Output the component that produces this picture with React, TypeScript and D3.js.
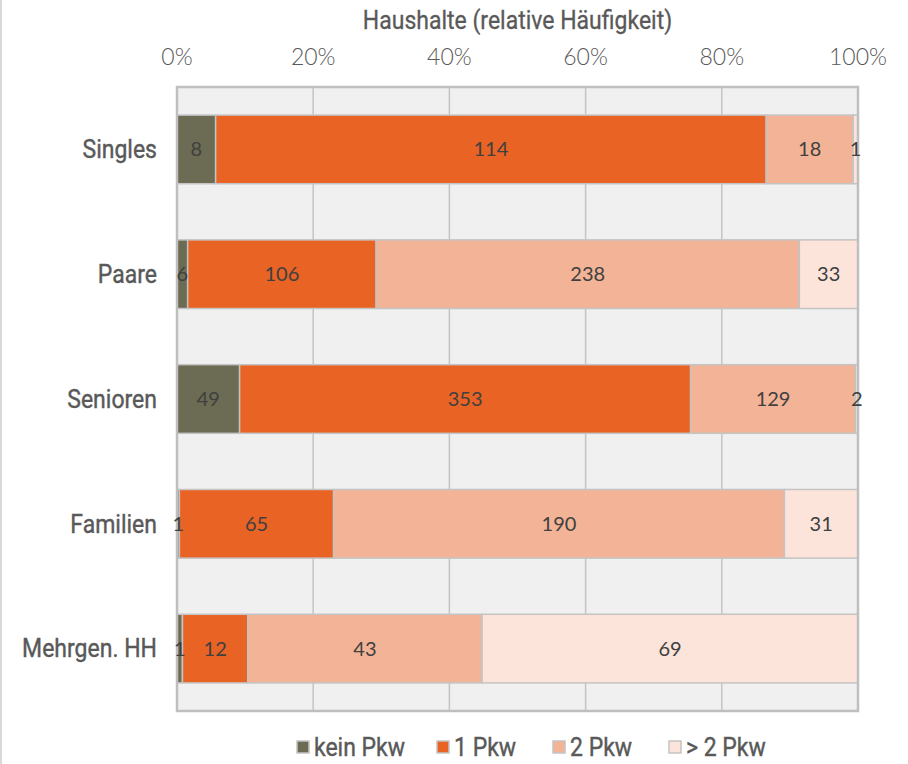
import React, { useRef, useEffect } from 'react';
import * as d3 from 'd3';

const categories = ['Singles', 'Paare', 'Senioren', 'Familien', 'Mehrgen. HH'];
const seriesNames = ['kein Pkw', '1 Pkw', '2 Pkw', '> 2 Pkw'];
const keinPkw = [8, 6, 49, 1, 1];
const einPkw = [114, 106, 353, 65, 12];
const zweiPkw = [18, 238, 129, 190, 43];
const mehrPkw = [1, 33, 2, 31, 69];
const tickValues = [0, 0.2, 0.4, 0.6, 0.8, 1];
const colors = ['#6c6b53', '#e96325', '#f3b396', '#fce4da'];

const labelFont = 'Roboto, sans-serif';
const squeeze = 0.92; // condensed look for the labels

const Chart: React.FC = () => {
  const svgRef = useRef<SVGSVGElement | null>(null);

  useEffect(() => {
    if (!svgRef.current) return;
    const svg = d3.select(svgRef.current);
    svg.selectAll('*').remove();

    const left = 177, right = 858, top = 87, bottom = 711;
    const series = [keinPkw, einPkw, zweiPkw, mehrPkw];
    const rows = categories.map((c, i) => {
      const vals = series.map(s => s[i]);
      return { cat: c, vals, total: d3.sum(vals) };
    });

    const x = d3.scaleLinear().domain([0, 1]).range([left, right]);
    const y = d3.scaleBand()
      .domain(categories)
      .range([top, bottom])
      .paddingInner(0.45)
      .paddingOuter(0.225);

    // left edge line
    svg.append('line')
      .attr('x1', 1).attr('x2', 1).attr('y1', 0).attr('y2', 764)
      .attr('stroke', '#d9d9d9').attr('stroke-width', 2);

    // plot background
    svg.append('rect')
      .attr('x', left).attr('y', top)
      .attr('width', right - left).attr('height', bottom - top)
      .attr('fill', '#f0f0f0');

    // gridlines
    svg.append('g')
      .selectAll('line')
      .data(tickValues)
      .join('line')
      .attr('x1', d => x(d)).attr('x2', d => x(d))
      .attr('y1', top).attr('y2', bottom)
      .attr('stroke', '#c4c4c4').attr('stroke-width', 1.5);

    // bars
    const segs: { x: number; y: number; v: number }[] = [];
    rows.forEach(r => {
      let acc = 0;
      const g = svg.append('g');
      r.vals.forEach((v, k) => {
        const x0 = x(acc / r.total);
        const x1 = x((acc + v) / r.total);
        acc += v;
        g.append('rect')
          .attr('x', x0).attr('y', y(r.cat)!)
          .attr('width', x1 - x0).attr('height', y.bandwidth())
          .attr('fill', colors[k])
          .attr('stroke', '#c4c4c4').attr('stroke-width', 1.5);
        segs.push({ x: (x0 + x1) / 2, y: y(r.cat)! + y.bandwidth() / 2, v });
      });
    });

    // border
    svg.append('rect')
      .attr('x', left).attr('y', top)
      .attr('width', right - left).attr('height', bottom - top)
      .attr('fill', 'none')
      .attr('stroke', '#bfbfbf').attr('stroke-width', 2.5);

    // value labels (drawn on top, not clipped)
    svg.append('g')
      .selectAll('text')
      .data(segs)
      .join('text')
      .attr('x', d => d.x)
      .attr('y', d => d.y)
      .attr('dy', '0.35em')
      .attr('text-anchor', 'middle')
      .attr('font-family', 'Lato, sans-serif')
      .attr('font-size', 20)
      .attr('fill', '#404040')
      .text(d => d.v);

    // category labels
    svg.append('g')
      .selectAll('text')
      .data(categories)
      .join('text')
      .attr('transform', d => `translate(157,${y(d)! + y.bandwidth() / 2}) scale(${squeeze},1)`)
      .attr('dy', '0.35em')
      .attr('text-anchor', 'end')
      .attr('font-family', labelFont)
      .attr('font-size', 25)
      .attr('fill', '#595959')
      .attr('stroke', '#595959')
      .attr('stroke-width', 0.4)
      .text(d => d);

    // tick labels on top
    svg.append('g')
      .selectAll('text')
      .data(tickValues)
      .join('text')
      .attr('x', d => x(d))
      .attr('y', 57)
      .attr('dy', '0.35em')
      .attr('text-anchor', 'middle')
      .attr('font-family', 'Lato, sans-serif')
      .attr('font-weight', 300)
      .attr('font-size', 23)
      .attr('fill', '#595959')
      .text(d => d3.format('.0%')(d));

    // axis title
    svg.append('text')
      .attr('transform', `translate(${(left + right) / 2},20) scale(${squeeze},1)`)
      .attr('dy', '0.35em')
      .attr('text-anchor', 'middle')
      .attr('font-family', labelFont)
      .attr('font-size', 25)
      .attr('fill', '#595959')
      .attr('stroke', '#595959')
      .attr('stroke-width', 0.3)
      .text('Haushalte (relative Häufigkeit)');

    // legend
    const legendX = [297, 437, 553, 669];
    const lg = svg.append('g');
    seriesNames.forEach((n, k) => {
      lg.append('rect')
        .attr('x', legendX[k]).attr('y', 741)
        .attr('width', 12).attr('height', 12)
        .attr('fill', colors[k])
        .attr('stroke', '#c4c4c4').attr('stroke-width', 1.5);
      lg.append('text')
        .attr('transform', `translate(${legendX[k] + 17},747) scale(${squeeze},1)`)
        .attr('dy', '0.35em')
        .attr('font-family', labelFont)
        .attr('font-size', 25)
        .attr('fill', '#595959')
        .attr('stroke', '#595959')
        .attr('stroke-width', 0.4)
        .text(n);
    });
  }, []);

  return (
    <svg
      ref={svgRef}
      width={908}
      height={764}
      style={{ position: 'absolute', left: 0, top: 0, background: '#fff' }}
    ></svg>
  );
};

export default function App() {
  return <Chart />;
}
